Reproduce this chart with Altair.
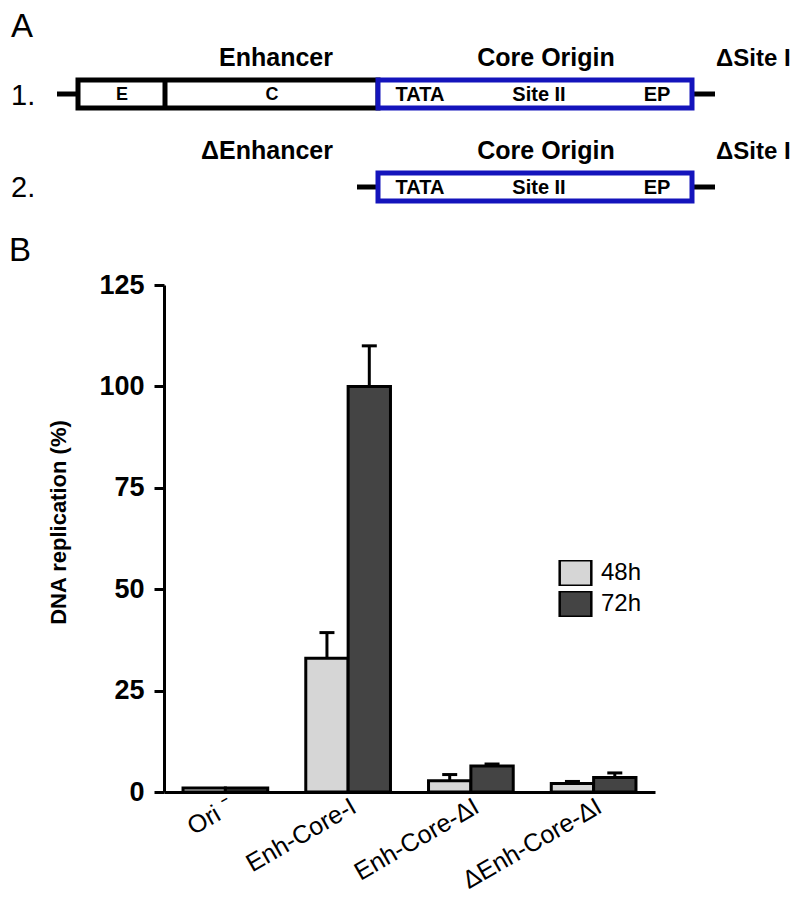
import altair as alt
import pandas as pd

FONT = "Liberation Sans"

# ---------------- Panel B data ----------------
constructs = ["Ori ⁻", "Enh-Core-I", "Enh-Core-ΔI", "ΔEnh-Core-ΔI"]
times = ["48h", "72h"]
rep_48h = [1.0, 33.0, 2.8, 2.1]
rep_72h = [1.0, 100.0, 6.4, 3.6]
top_48h = [1.0, 39.3, 4.3, 2.6]
top_72h = [1.0, 110.0, 6.9, 4.7]
y_ticks = [0, 25, 50, 75, 100, 125]

rows = []
for i, c in enumerate(constructs):
    rows.append(dict(construct=c, time="48h", value=rep_48h[i], top=top_48h[i]))
    rows.append(dict(construct=c, time="72h", value=rep_72h[i], top=top_72h[i]))
bar_df = pd.DataFrame(rows)
err_df = bar_df[bar_df["top"] > bar_df["value"]]

# ---------------- Panel A schematic (diagram units) ----------------
box_x1 = [78, 378, 378]
box_x2 = [378, 692, 692]
box_y1 = [80, 80, 173]
box_y2 = [108, 108, 201]
box_col = ["black", "#1414bc", "#1414bc"]

stub_x1 = [57, 692, 357, 692, 165]
stub_x2 = [78, 715, 378, 715, 165]
stub_y1 = [94, 94, 187, 187, 80]
stub_y2 = [94, 94, 187, 187, 108]

elem_text = ["E", "C", "TATA", "Site II", "EP", "TATA", "Site II", "EP"]
elem_x = [122, 272, 420, 539, 657, 420, 539, 657]
elem_y = [95, 95, 95, 95, 95, 188, 188, 188]
elem_size = [18, 18, 20, 20, 20, 20, 20, 20]

region_text = ["Enhancer", "Core Origin", "ΔEnhancer", "Core Origin"]
region_x = [276, 546, 267, 546]
region_y = [66, 66, 159, 159]

site_text = ["ΔSite I", "ΔSite I"]
site_x = [716, 716]
site_y = [66, 159]

row_text = ["1.", "2."]
row_x = [11, 11]
row_y = [96, 188]

letter_text = ["A", "B"]
letter_x = [11, 9]
letter_y = [27, 251]

box_df = pd.DataFrame(dict(x1=box_x1, x2=box_x2, y1=box_y1, y2=box_y2, col=box_col))
stub_df = pd.DataFrame(dict(x1=stub_x1, x2=stub_x2, y1=stub_y1, y2=stub_y2))
elem_df = pd.DataFrame(dict(t=elem_text, x=elem_x, y=elem_y, s=elem_size))
region_df = pd.DataFrame(dict(t=region_text, x=region_x, y=region_y))
site_df = pd.DataFrame(dict(t=site_text, x=site_x, y=site_y))
row_df = pd.DataFrame(dict(t=row_text, x=row_x, y=row_y))
letter_df = pd.DataFrame(dict(t=letter_text, x=letter_x, y=letter_y))

W, H = 491, 507
dx_scale = alt.Scale(domain=[164, 164 + W], nice=False, zero=False)
dy_scale = alt.Scale(domain=[285 + H, 285], nice=False, zero=False)


def DX(f):
    return alt.X(f, type="quantitative", scale=dx_scale, axis=None)


def DY(f):
    return alt.Y(f, type="quantitative", scale=dy_scale, axis=None)


stubs = alt.Chart(stub_df).mark_rule(color="black", strokeWidth=5).encode(
    x=DX("x1"), x2="x2", y=DY("y1"), y2="y2")
boxes = alt.Chart(box_df).mark_rect(fill="white", strokeWidth=5).encode(
    x=DX("x1"), x2="x2", y=DY("y1"), y2="y2",
    stroke=alt.Stroke("col:N", scale=None))
divider = alt.Chart(stub_df.iloc[[4]]).mark_rule(color="black", strokeWidth=5).encode(
    x=DX("x1"), y=DY("y1"), y2="y2")
elems = alt.Chart(elem_df).mark_text(font=FONT, fontWeight="bold",
                                      baseline="middle", align="center").encode(
    x=DX("x"), y=DY("y"), text="t:N", size=alt.Size("s:Q", scale=None))
regions = alt.Chart(region_df).mark_text(font=FONT, fontWeight="bold", fontSize=25,
                                          baseline="alphabetic", align="center").encode(
    x=DX("x"), y=DY("y"), text="t:N")
sites = alt.Chart(site_df).mark_text(font=FONT, fontWeight="bold", fontSize=24,
                                      baseline="alphabetic", align="left").encode(
    x=DX("x"), y=DY("y"), text="t:N")
rownums = alt.Chart(row_df).mark_text(font=FONT, fontSize=29,
                                       baseline="middle", align="left").encode(
    x=DX("x"), y=DY("y"), text="t:N")
letters = alt.Chart(letter_df).mark_text(font=FONT, fontSize=33,
                                          baseline="middle", align="left").encode(
    x=DX("x"), y=DY("y"), text="t:N")

diagram = alt.layer(stubs, boxes, divider, elems, regions, sites, rownums, letters)

# ---------------- Panel B bar chart ----------------
x_enc = alt.X("construct:N", sort=constructs,
              scale=alt.Scale(paddingInner=0.31, paddingOuter=0.155),
              axis=alt.Axis(title=None, labelAngle=-30, labelAlign="right",
                            labelBaseline="middle", labelPadding=12, ticks=False,
                            labelFontSize=25, labelFont=FONT, labelColor="black",
                            labelOffset=6,
                            domainColor="black", domainWidth=3))
xo_enc = alt.XOffset("time:N", sort=times, scale=alt.Scale(paddingInner=0, paddingOuter=0))
y_scale = alt.Scale(domain=[0, 125], nice=False, zero=True)
y_enc = alt.Y("value:Q", scale=y_scale,
              axis=alt.Axis(values=y_ticks, title="DNA replication (%)", grid=False,
                            labelFont=FONT, labelFontSize=27, labelFontWeight="bold",
                            labelColor="black", labelPadding=10,
                            tickSize=10, tickWidth=3, tickColor="black",
                            domainColor="black", domainWidth=3,
                            titleFont=FONT, titleFontSize=22, titleFontWeight="bold",
                            titleColor="black", titlePadding=28, titleY=237))

bars = alt.Chart(bar_df).mark_bar(stroke="black", strokeWidth=3).encode(
    x=x_enc, xOffset=xo_enc, y=y_enc,
    fill=alt.Fill("time:N", sort=times,
                  scale=alt.Scale(domain=times, range=["#d6d6d6", "#444444"]),
                  legend=alt.Legend(title=None, orient="none", legendX=394, legendY=275,
                                    symbolType="M-1,-0.8L1,-0.8L1,0.8L-1,0.8Z",
                                    symbolSize=1000, clipHeight=26,
                                    symbolStrokeColor="black", symbolStrokeWidth=2.5,
                                    symbolOpacity=1, labelFont=FONT, labelFontSize=24,
                                    labelColor="black", rowPadding=5, labelOffset=8)))
stems = alt.Chart(err_df).mark_rule(color="black", strokeWidth=3).encode(
    x=alt.X("construct:N", sort=constructs), xOffset=alt.XOffset("time:N", sort=times),
    y=alt.Y("value:Q"), y2="top:Q")
caps = alt.Chart(err_df).mark_tick(color="black", thickness=3, size=15, opacity=1).encode(
    x=alt.X("construct:N", sort=constructs), xOffset=alt.XOffset("time:N", sort=times),
    y=alt.Y("top:Q"))

barchart = alt.layer(stems, caps, bars)

chart = alt.layer(diagram, barchart).resolve_scale(
    x="independent", y="independent").properties(
    width=W, height=H,
    autosize=alt.AutoSizeParams(type="none"),
    padding={"left": 156, "top": 277, "right": 137, "bottom": 120},
    background="white",
).configure_view(stroke=None)

chart.save("out.html", embed_options={"renderer": "svg", "actions": False})
